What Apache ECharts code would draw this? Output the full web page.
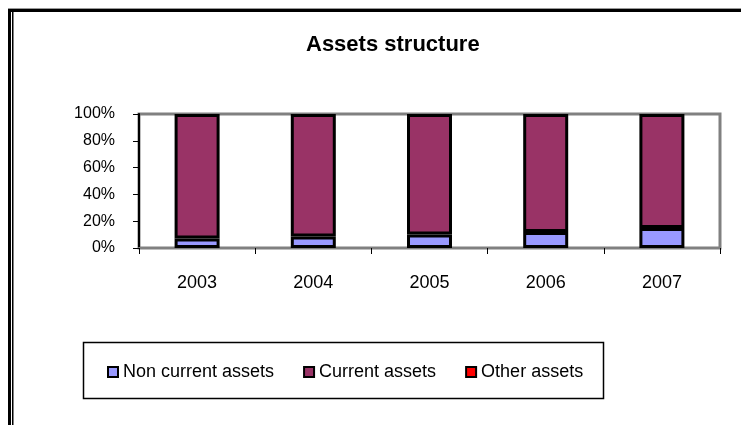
<!DOCTYPE html>
<html>
<head>
<meta charset="utf-8">
<script src="https://cdn.jsdelivr.net/npm/echarts@6/dist/echarts.min.js"></script>
<style>html,body{margin:0;padding:0;background:#fff}#c{width:741px;height:425px}</style>
</head>
<body>
<div id="c"></div>
<script>
const categories = ['2003', '2004', '2005', '2006', '2007'];
const nonCurrentAssets = [7, 8.5, 10, 12, 15];
const currentAssets = [93, 91.5, 90, 88, 85];
const otherAssets = [0, 0, 0, 0, 0];
const yTicks = [0, 20, 40, 60, 80, 100];

const chart = echarts.init(document.getElementById('c'));
const barStyle = (color) => ({ color: color, borderColor: '#000', borderWidth: 3 });
chart.setOption({
  animation: false,
  backgroundColor: '#fff',
  textStyle: { fontFamily: 'Liberation Sans, Arial, sans-serif' },
  title: {
    text: 'Assets structure',
    left: 306, top: 34,
    padding: 0,
    textStyle: { fontSize: 22, fontWeight: 'bold', color: '#000', fontFamily: 'Liberation Sans, Arial, sans-serif' }
  },
  grid: {
    left: 139, right: 21, top: 114, bottom: 177,
    show: true, borderColor: '#808080', borderWidth: 3, backgroundColor: 'transparent'
  },
  legend: {
    left: 107, top: 363,
    padding: 0,
    itemWidth: 10, itemHeight: 10, itemGap: 29,
    icon: 'rect',
    itemStyle: { borderColor: '#000', borderWidth: 2 },
    textStyle: { fontSize: 18, color: '#000' },
    data: ['Non current assets', 'Current assets', 'Other assets']
  },
  xAxis: {
    type: 'category',
    data: categories,
    axisLine: { lineStyle: { color: '#808080', width: 2 } },
    axisTick: { show: true, length: 6, lineStyle: { color: '#000', width: 1 } },
    axisLabel: { fontSize: 18, color: '#000', margin: 26 }
  },
  yAxis: {
    type: 'value', min: 0, max: 100, interval: 20,
    axisLine: { show: true, lineStyle: { color: '#000', width: 2 } },
    axisTick: { show: true, length: 6, lineStyle: { color: '#000', width: 1 } },
    splitLine: { show: false },
    axisLabel: { fontSize: 16, color: '#000', margin: 24, formatter: (v) => yTicks.includes(v) ? v + '%' : '' }
  },
  series: [
    { name: 'Non current assets', type: 'bar', stack: 's', barWidth: 45, data: nonCurrentAssets, itemStyle: barStyle('#9999FF') },
    { name: 'Current assets', type: 'bar', stack: 's', barWidth: 45, data: currentAssets, itemStyle: barStyle('#993366') },
    { name: 'Other assets', type: 'bar', stack: 's', barWidth: 45, data: otherAssets, itemStyle: { color: '#FF0000', borderColor: '#000', borderWidth: 0 } }
  ],
  graphic: [
    { type: 'rect', shape: { x: 8, y: 8, width: 733, height: 1 }, style: { fill: '#999' }, silent: true },
    { type: 'rect', shape: { x: 8, y: 9, width: 733, height: 3 }, style: { fill: '#000' }, silent: true },
    { type: 'rect', shape: { x: 8, y: 9, width: 3, height: 416 }, style: { fill: '#000' }, silent: true },
    { type: 'rect', shape: { x: 12, y: 12, width: 1.5, height: 413 }, style: { fill: '#000' }, silent: true },
    { type: 'rect', shape: { x: 83.5, y: 342.5, width: 520, height: 56 }, style: { fill: 'none', stroke: '#000', lineWidth: 1.5 }, silent: true, z: -1 }
  ]
});
</script>
</body>
</html>
